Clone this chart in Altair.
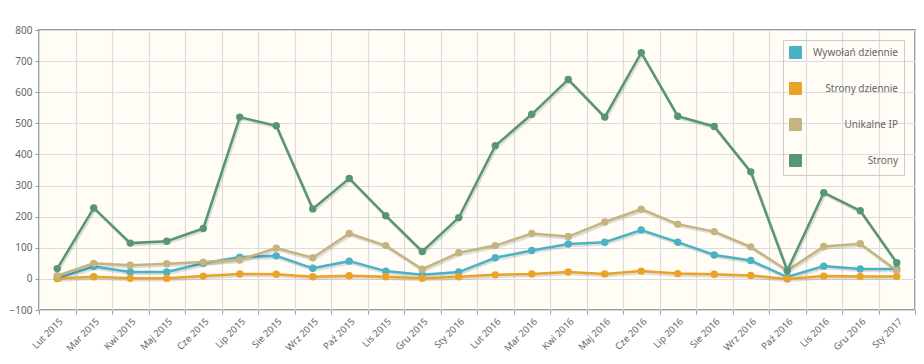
import altair as alt
import pandas as pd

months = ["Lut 2015", "Mar 2015", "Kwi 2015", "Maj 2015", "Cze 2015", "Lip 2015",
          "Sie 2015", "Wrz 2015", "Paź 2015", "Lis 2015", "Gru 2015", "Sty 2016",
          "Lut 2016", "Mar 2016", "Kwi 2016", "Maj 2016", "Cze 2016", "Lip 2016",
          "Sie 2016", "Wrz 2016", "Paź 2016", "Lis 2016", "Gru 2016", "Sty 2017"]

wywolan_dziennie = [2, 40, 22, 22, 50, 70, 74, 34, 57, 25, 13, 22,
                    68, 91, 112, 118, 157, 118, 77, 59, 6, 41, 32, 32]
strony_dziennie = [1, 7, 2, 2, 9, 16, 15, 7, 10, 7, 2, 7,
                   13, 16, 22, 16, 25, 17, 15, 11, 0, 9, 8, 8]
unikalne_ip = [10, 50, 44, 49, 54, 61, 99, 68, 146, 107, 31, 84,
               107, 146, 136, 183, 224, 176, 152, 103, 27, 104, 113, 27]
strony = [33, 228, 115, 121, 162, 520, 492, 225, 323, 203, 88, 197,
          428, 529, 641, 520, 727, 523, 490, 344, 27, 277, 219, 52]

series_names = ["Wywołań dziennie", "Strony dziennie", "Unikalne IP", "Strony"]
series_colors = ["#4bb2c5", "#eaa228", "#c5b47f", "#579575"]
y_ticks = [-100, 0, 100, 200, 300, 400, 500, 600, 700, 800]

rows = []
for name, vals in zip(series_names, [wywolan_dziennie, strony_dziennie, unikalne_ip, strony]):
    for m, v in zip(months, vals):
        rows.append({"month": m, "value": v, "series": name})
df = pd.DataFrame(rows)

font = "Noto Sans"

x_enc = alt.X("month:N", sort=months,
              scale=alt.Scale(paddingInner=0, paddingOuter=0),
              axis=alt.Axis(title=None, labelAngle=315, labelFontSize=9.5,
                            labelColor="#666666", labelFont=font, labelPadding=2,
                            tickBand="extent", tickSize=4, tickColor="#999999",
                            grid=True, gridColor="#dcdcdc", gridWidth=1.2,
                            domain=False))
y_enc = alt.Y("value:Q",
              scale=alt.Scale(domain=[-100, 800], nice=False, zero=False),
              axis=alt.Axis(title=None, values=y_ticks, labelFontSize=10,
                            labelColor="#666666", labelFont=font, labelPadding=3,
                            tickSize=4, tickColor="#999999",
                            grid=True, gridColor="#dcdcdc", gridWidth=1.2,
                            domain=False))

color_enc = alt.Color("series:N",
                      scale=alt.Scale(domain=series_names, range=series_colors),
                      legend=alt.Legend(title=None, orient="none", legendX=744, legendY=10,
                                        symbolType="square", symbolSize=144,
                                        symbolStrokeColor="#cccccc", symbolStrokeWidth=1,
                                        symbolOpacity=1,
                                        labelAlign="right", labelOffset=96,
                                        labelFontSize=10, labelColor="#666666",
                                        labelFont=font,
                                        rowPadding=19, padding=6,
                                        strokeColor="#cccccc"))

layers = []
for name in series_names:
    sub = df[df["series"] == name]
    b = alt.Chart(sub)
    layers.append(b.mark_line(color="#000000", opacity=0.12, strokeWidth=3,
                              xOffset=1.2, yOffset=1.8).encode(x=x_enc, y=y_enc))
    layers.append(b.mark_line(strokeWidth=2.5).encode(x=x_enc, y=y_enc, color=color_enc))
    layers.append(b.mark_point(filled=True, size=55, opacity=1).encode(
        x=x_enc, y=y_enc, color=color_enc))

chart = alt.layer(*layers).properties(
    width=876, height=280,
    autosize=alt.AutoSizeParams(type="none"),
    padding={"left": 31, "top": 22, "right": 1, "bottom": 46},
    background="#ffffff",
).configure_view(
    fill="#fffdf6", stroke="#999999", strokeWidth=2
)

chart.save("out.html", embed_options={"renderer": "svg", "actions": False})
